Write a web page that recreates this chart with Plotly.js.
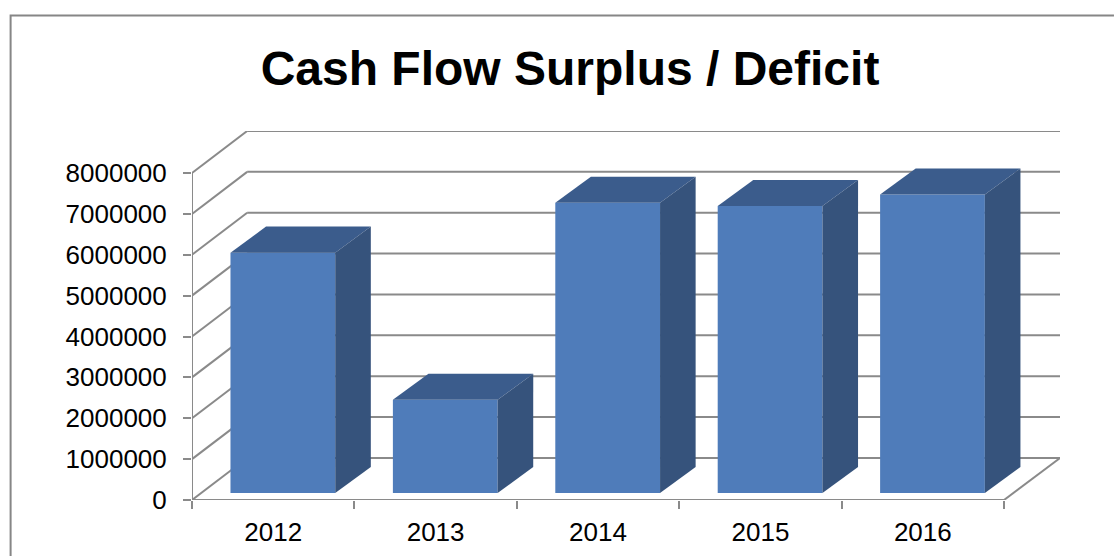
<!DOCTYPE html>
<html>
<head>
<meta charset="utf-8">
<script src="https://cdn.plot.ly/plotly-3.0.1.min.js"></script>
<style>html,body{margin:0;padding:0;background:#fff}</style>
</head>
<body>
<div id="chart" style="width:1114px;height:558px"></div>
<script>
var categories = ["2012", "2013", "2014", "2015", "2016"];
var values = [5880000, 2280000, 7100000, 7020000, 7300000];
var gridLevels = [0, 1000000, 2000000, 3000000, 4000000, 5000000, 6000000, 7000000, 8000000];

var FRONT = "#4f7cba", SIDE = "#36537c", TOP = "#3b5c8c", GREY = "#8a8a8a";
var W = 1114, H = 558, L = 191.5, R = 54, T = 131.3, B = 58;

// depth of the 3D box expressed in axis units
var pxPerCat = 162.5, pxPerVal = 40.84 / 1e6;
var depthX = 55.2 / pxPerCat, depthY = 42 / pxPerVal;
var xMin = -0.5, xMax = xMin + (W - L - R) / pxPerCat;
var yMax = (H - T - B) / pxPerVal;
var nearFracX = 0.175, nearFracY = 0.167, boxFracX = 0.645, boxFracY = 0.62, barWidth = 0.645;

var shapes = [];
function seg(x0, y0, x1, y1) {
  shapes.push({type: "line", layer: "below", xref: "x", yref: "y", x0: x0, y0: y0, x1: x1, y1: y1,
    line: {color: GREY, width: 2}});
}
gridLevels.forEach(function (v) {
  seg(xMin, v, xMin + depthX, v + depthY);
  seg(xMin + depthX, v + depthY, xMax, v + depthY);
});
seg(xMin, 0, xMin, gridLevels[gridLevels.length - 1]);
seg(xMin, 0, categories.length - 0.5, 0);
seg(categories.length - 0.5, 0, xMax, depthY);

// outer chart frame, open at the right and bottom where the picture is cropped
shapes.push({type: "path", layer: "below", xref: "paper", yref: "paper",
  path: "M " + (10 - L) / (W - L - R) + " " + (H - B + 2 - H) / (H - T - B) +
        " L " + (10 - L) / (W - L - R) + " " + (H - B - 16) / (H - T - B) +
        " L " + (W - L) / (W - L - R) + " " + (H - B - 16) / (H - T - B),
  line: {color: "#868686", width: 2}});

var nearDx = nearFracX * depthX, nearDy = nearFracY * depthY;
var boxDx = boxFracX * depthX, boxDy = boxFracY * depthY;
var hw = barWidth / 2;

var traces = [{
  type: "bar",
  x: categories.map(function (c, i) { return i + nearDx; }),
  y: values,
  base: values.map(function () { return nearDy; }),
  width: barWidth,
  marker: {color: FRONT, line: {width: 0}},
  hoverinfo: "skip",
  showlegend: false
}];

values.forEach(function (v, i) {
  var xl = i + nearDx - hw, xr = i + nearDx + hw, b = nearDy, t = nearDy + v;
  traces.push({type: "scatter", mode: "lines", fill: "toself", fillcolor: TOP, line: {width: 0, color: TOP},
    x: [xl, xr, xr + boxDx, xl + boxDx, xl], y: [t, t, t + boxDy, t + boxDy, t],
    hoverinfo: "skip", showlegend: false});
  traces.push({type: "scatter", mode: "lines", fill: "toself", fillcolor: SIDE, line: {width: 0, color: SIDE},
    x: [xr, xr + boxDx, xr + boxDx, xr, xr], y: [b, b + boxDy, t + boxDy, t, b],
    hoverinfo: "skip", showlegend: false});
});

var axisFont = {family: "Liberation Sans, Arial, sans-serif", size: 26, color: "#000"};
var layout = {
  width: W, height: H, autosize: false,
  margin: {l: L, r: R, t: T, b: B, pad: 0},
  paper_bgcolor: "#fff", plot_bgcolor: "rgba(0,0,0,0)",
  title: {text: "<b>Cash Flow Surplus / Deficit</b>", x: 570 / W, xanchor: "center", xref: "container",
    y: 1 - 68 / H, yanchor: "middle", yref: "container",
    font: {family: "Liberation Sans, Arial, sans-serif", size: 48, color: "#000"}},
  xaxis: {
    range: [xMin, xMax], showgrid: false, zeroline: false, showline: false,
    tickmode: "array", tickvals: categories.map(function (c, i) { return i; }), ticktext: categories,
    ticks: "", tickfont: axisFont, ticklabelstandoff: 14,
    minor: {tickmode: "array", tickvals: [-0.5, 0.5, 1.5, 2.5, 3.5, 4.5], ticks: "outside", ticklen: 8, tickcolor: GREY, tickwidth: 2, showgrid: false}
  },
  yaxis: {
    range: [0, yMax], showgrid: false, zeroline: false, showline: false,
    tickmode: "array", tickvals: gridLevels, ticktext: gridLevels.map(String),
    ticks: "outside", ticklen: 8, tickcolor: GREY, tickwidth: 2, tickfont: axisFont, ticklabelstandoff: 11
  },
  shapes: shapes,
  showlegend: false
};
Plotly.newPlot("chart", traces, layout, {displayModeBar: false, staticPlot: true});
</script>
</body>
</html>
